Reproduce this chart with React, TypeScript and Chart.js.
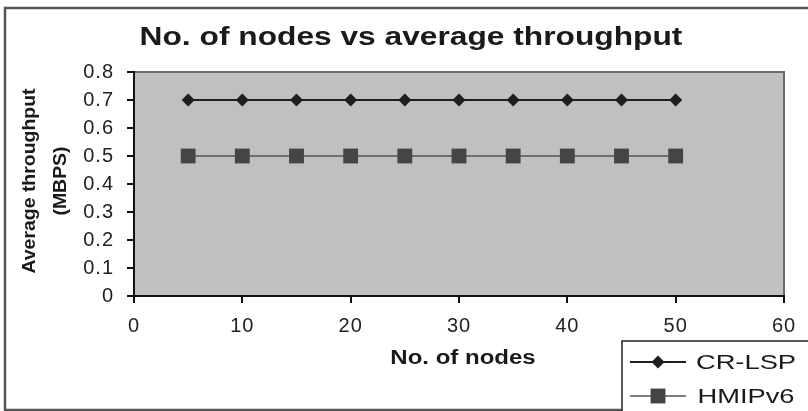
import React, { useEffect, useRef } from "react";
import { Chart, registerables } from "chart.js";

Chart.register(...registerables);

const nodes = [5, 10, 15, 20, 25, 30, 35, 40, 45, 50];
const crLsp = [0.7, 0.7, 0.7, 0.7, 0.7, 0.7, 0.7, 0.7, 0.7, 0.7];
const hmipv6 = [0.5, 0.5, 0.5, 0.5, 0.5, 0.5, 0.5, 0.5, 0.5, 0.5];
const seriesNames = ["CR-LSP", "HMIPv6"];
const chartTitle = "No. of nodes vs average throughput";
const xTitle = "No. of nodes";
const yTitle = ["Average throughput", "(MBPS)"];

const FONT = "'Liberation Sans', Arial, sans-serif";

function drawStretched(ctx: CanvasRenderingContext2D, text: string, x: number, y: number, sx: number, font: string, rot = 0) {
  ctx.save();
  ctx.translate(x, y);
  ctx.rotate(rot);
  ctx.scale(sx, 1);
  ctx.font = font;
  ctx.textAlign = "center";
  ctx.textBaseline = "middle";
  ctx.fillStyle = "#1a1a1a";
  ctx.fillText(text, 0, 0);
  ctx.restore();
}

const decor = {
  id: "decor",
  beforeDraw(chart: any) {
    const ctx = chart.ctx as CanvasRenderingContext2D;
    const a = chart.chartArea;
    ctx.save();
    ctx.fillStyle = "#ffffff";
    ctx.fillRect(0, 0, chart.width, chart.height);
    ctx.strokeStyle = "#555555";
    ctx.lineWidth = 2.5;
    ctx.strokeRect(5, 8, 830, 402);
    ctx.fillStyle = "#c0c0c0";
    ctx.fillRect(a.left, a.top, a.right - a.left, a.bottom - a.top);
    ctx.strokeStyle = "#6a6a6a";
    ctx.lineWidth = 2;
    ctx.beginPath();
    ctx.moveTo(a.left, a.top);
    ctx.lineTo(a.right, a.top);
    ctx.lineTo(a.right, a.bottom);
    ctx.stroke();
    ctx.restore();
    (ctx as any).letterSpacing = "1px";
  },
  afterDraw(chart: any) {
    const ctx = chart.ctx as CanvasRenderingContext2D;
    (ctx as any).letterSpacing = "0px";
    drawStretched(ctx, chartTitle, 411, 38, 1.22, `bold 26px ${FONT}`);
    drawStretched(ctx, xTitle, 463, 358, 1.2, `bold 20px ${FONT}`);
    drawStretched(ctx, yTitle[0], 30, 181, 1.08, `bold 18px ${FONT}`, -Math.PI / 2);
    drawStretched(ctx, yTitle[1], 61, 181, 1.08, `bold 18px ${FONT}`, -Math.PI / 2);

    // legend
    ctx.save();
    ctx.fillStyle = "#ffffff";
    ctx.fillRect(622, 341, 200, 80);
    ctx.strokeStyle = "#222222";
    ctx.lineWidth = 1.5;
    ctx.strokeRect(622, 341, 200, 80);
    const rows = [362, 396];
    chart.data.datasets.forEach((ds: any, i: number) => {
      const y = rows[i];
      ctx.strokeStyle = ds.borderColor;
      ctx.lineWidth = ds.borderWidth;
      ctx.beginPath();
      ctx.moveTo(630, y);
      ctx.lineTo(686, y);
      ctx.stroke();
      ctx.fillStyle = ds.pointBackgroundColor;
      if (ds.pointStyle === "rectRot") {
        const r = ds.pointRadius;
        ctx.beginPath();
        ctx.moveTo(658 - r, y);
        ctx.lineTo(658, y - r);
        ctx.lineTo(658 + r, y);
        ctx.lineTo(658, y + r);
        ctx.closePath();
        ctx.fill();
      } else {
        const s = ds.pointRadius * Math.SQRT1_2;
        ctx.fillRect(658 - s, y - s, 2 * s, 2 * s);
      }
      drawStretched(ctx, ds.label, 746, y + 1, 1.3, `21px ${FONT}`);
    });
    ctx.restore();
  },
};

export default function App() {
  const ref = useRef<HTMLCanvasElement>(null);
  useEffect(() => {
    if (!ref.current) return;
    const chart = new Chart(ref.current, {
      type: "line",
      data: {
        datasets: [
          {
            label: seriesNames[0],
            data: nodes.map((x, i) => ({ x, y: crLsp[i] })),
            borderColor: "#1e1e1e",
            borderWidth: 2,
            pointStyle: "rectRot",
            pointRadius: 6.5,
            pointBackgroundColor: "#1e1e1e",
            pointBorderColor: "#1e1e1e",
            pointBorderWidth: 0,
          },
          {
            label: seriesNames[1],
            data: nodes.map((x, i) => ({ x, y: hmipv6[i] })),
            borderColor: "#555555",
            borderWidth: 1.5,
            pointStyle: "rect",
            pointRadius: 10.5,
            pointBackgroundColor: "#454545",
            pointBorderColor: "#3a3a3a",
            pointBorderWidth: 0,
          },
        ],
      },
      options: {
        responsive: false,
        animation: false,
        events: [],
        layout: { padding: { left: 0, top: 72, right: 24, bottom: 75 } },
        plugins: { legend: { display: false }, title: { display: false }, tooltip: { enabled: false } },
        scales: {
          x: {
            type: "linear",
            min: 0,
            max: 60,
            afterFit: (s: any) => { s.height = 40; },
            ticks: { stepSize: 10, color: "#222", padding: 11, font: { family: FONT, size: 20 } },
            grid: { drawOnChartArea: false, drawTicks: true, tickLength: 7, color: "#111", lineWidth: 2 },
            border: { color: "#111", width: 2 },
          },
          y: {
            min: 0,
            max: 0.8,
            afterFit: (s: any) => { s.width = 134; },
            ticks: { stepSize: 0.1, color: "#222", padding: 13, font: { family: FONT, size: 20 }, callback: (v: any) => String(Math.round(Number(v) * 10) / 10) },
            grid: { drawOnChartArea: false, drawTicks: true, tickLength: 7, color: "#111", lineWidth: 2 },
            border: { color: "#111", width: 2 },
          },
        },
      },
      plugins: [decor],
    } as any);
    return () => chart.destroy();
  }, []);
  return (
    <div style={{ position: "fixed", left: 0, top: 0, width: 808, height: 411 }}>
      <canvas ref={ref} width={808} height={411} style={{ width: 808, height: 411, display: "block" }} />
    </div>
  );
}
